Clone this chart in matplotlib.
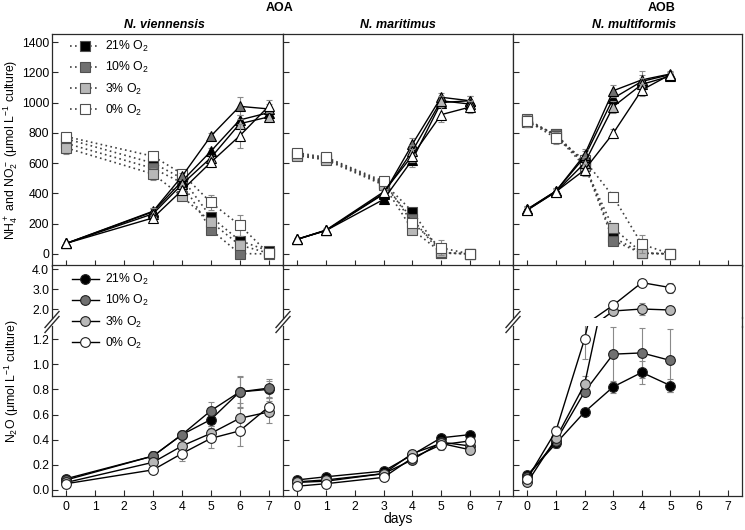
import numpy as np
import matplotlib
matplotlib.use('Agg')
import matplotlib.pyplot as plt
from matplotlib.lines import Line2D

plt.rcParams['font.family'] = ['Liberation Sans', 'DejaVu Sans']
plt.rcParams['mathtext.fontset'] = 'custom'
plt.rcParams['mathtext.rm'] = 'Liberation Sans'
plt.rcParams['mathtext.it'] = 'Liberation Sans:italic'
plt.rcParams['mathtext.bf'] = 'Liberation Sans:bold'

# O2 levels (order: 21, 10, 3, 0 %)
levels = ['21% O$_2$', '10% O$_2$', '3% O$_2$', '0% O$_2$']
fills = ['black', '#707070', '#b8b8b8', 'white']
species = ['N. viennensis', 'N. maritimus', 'N. multiformis']

# N. viennensis
days_v = [0, 3, 4, 5, 6, 7]
nh4_v = [[760, 600, 500, 245, 88, 20],
         [730, 565, 470, 160, 2, 0],
         [700, 528, 380, 212, 58, 5],
         [775, 645, 530, 340, 190, 3]]
nh4_v_err = [[20, 20, 20, 30, 30, 15],
             [20, 30, 20, 30, 30, 10],
             [40, 40, 20, 30, 30, 10],
             [20, 20, 20, 50, 70, 30]]
no2_v = [[70, 278, 480, 678, 885, 933],
         [70, 282, 512, 778, 975, 958],
         [70, 265, 460, 635, 860, 905],
         [70, 238, 420, 605, 780, 975]]
no2_v_err = [[5, 20, 20, 20, 30, 30],
             [5, 20, 20, 20, 60, 30],
             [5, 40, 30, 20, 30, 30],
             [5, 20, 30, 30, 80, 40]]
n2o_v = [[0.09, 0.27, 0.44, 0.56, 0.78, 0.80],
         [0.08, 0.27, 0.44, 0.63, 0.78, 0.81],
         [0.06, 0.22, 0.35, 0.45, 0.57, 0.62],
         [0.05, 0.16, 0.29, 0.41, 0.47, 0.66]]
n2o_v_err = [[0.01, 0.03, 0.03, 0.05, 0.12, 0.07],
             [0.01, 0.04, 0.02, 0.07, 0.13, 0.07],
             [0.01, 0.03, 0.03, 0.06, 0.12, 0.09],
             [0.01, 0.02, 0.06, 0.08, 0.12, 0.07]]

# N. maritimus
days_m = [0, 1, 3, 4, 5, 6]
nh4_m = [[660, 632, 470, 280, 8, 0],
         [652, 625, 462, 230, 5, 0],
         [650, 620, 455, 160, 10, 0],
         [668, 638, 480, 205, 40, 0]]
nh4_m_err = [[20, 20, 20, 20, 15, 10],
             [20, 20, 20, 20, 15, 10],
             [20, 20, 20, 25, 15, 10],
             [20, 20, 20, 30, 50, 10]]
no2_m = [[97, 155, 360, 622, 1000, 1012],
         [97, 155, 395, 725, 1035, 1012],
         [97, 155, 400, 680, 1012, 990],
         [97, 158, 410, 650, 920, 970]]
no2_m_err = [[5, 10, 20, 50, 30, 30],
             [5, 10, 20, 40, 30, 30],
             [5, 10, 20, 40, 30, 30],
             [5, 10, 20, 40, 50, 40]]
n2o_m = [[0.08, 0.105, 0.15, 0.28, 0.415, 0.44],
         [0.06, 0.07, 0.13, 0.24, 0.38, 0.35],
         [0.065, 0.08, 0.13, 0.29, 0.37, 0.32],
         [0.03, 0.05, 0.10, 0.255, 0.36, 0.39]]
n2o_m_err = [[0.01, 0.01, 0.01, 0.02, 0.02, 0.02],
             [0.01, 0.01, 0.01, 0.02, 0.02, 0.02],
             [0.01, 0.01, 0.01, 0.03, 0.02, 0.03],
             [0.01, 0.01, 0.01, 0.02, 0.04, 0.02]]

# N. multiformis
days_n = [0, 1, 2, 3, 4, 5]
nh4_n = [[880, 790, 600, 110, 5, 0],
         [870, 790, 590, 88, 3, 0],
         [890, 780, 580, 171, 8, 0],
         [878, 766, 620, 379, 64, 0]]
nh4_n_err = [[30, 30, 30, 30, 10, 10],
             [30, 30, 30, 30, 10, 10],
             [30, 30, 30, 30, 10, 10],
             [40, 40, 40, 30, 60, 20]]
no2_n = [[295, 415, 640, 1028, 1140, 1185],
         [295, 415, 655, 1078, 1150, 1189],
         [290, 410, 600, 973, 1120, 1175],
         [290, 411, 555, 797, 1083, 1185]]
no2_n_err = [[20, 20, 40, 40, 40, 20],
             [20, 20, 40, 40, 60, 20],
             [20, 20, 40, 40, 40, 20],
             [20, 20, 40, 30, 40, 20]]
n2o_n = [[0.118, 0.37, 0.62, 0.82, 0.935, 0.83],
         [0.105, 0.39, 0.78, 1.08, 1.09, 1.03],
         [0.06, 0.41, 0.84, 1.90, 2.00, 1.95],
         [0.09, 0.47, 1.20, 2.19, 3.32, 3.07]]
n2o_n_err = [[0.01, 0.04, 0.02, 0.05, 0.09, 0.05],
             [0.01, 0.04, 0.03, 0.22, 0.2, 0.25],
             [0.01, 0.04, 0.07, 0.15, 0.3, 0.2],
             [0.01, 0.04, 0.16, 0.1, 0.12, 0.25]]

all_days = [days_v, days_m, days_n]
all_nh4 = [(nh4_v, nh4_v_err), (nh4_m, nh4_m_err), (nh4_n, nh4_n_err)]
all_no2 = [(no2_v, no2_v_err), (no2_m, no2_m_err), (no2_n, no2_n_err)]
all_n2o = [(n2o_v, n2o_v_err), (n2o_m, n2o_m_err), (n2o_n, n2o_n_err)]

W, H = 745, 530
fig = plt.figure(figsize=(7.45, 5.3), dpi=100)

def fx(px):
    return px / W

def fy(py):
    return 1 - py / H

col_x = [52, 283, 513]
col_w = [231, 230, 229]
spine_c = '#2a2a2a'
err_c = '#8a8a8a'
fs = 8.8
dot = (0, (1, 2))

def style(ax, labelleft, labelbottom):
    for s in ax.spines.values():
        s.set_color(spine_c)
        s.set_linewidth(0.9)
    ax.tick_params(direction='in', length=4, width=0.8, color=spine_c,
                   labelsize=fs, left=True, right=False, top=False,
                   labelleft=labelleft, labelbottom=labelbottom)
    ax.tick_params(axis='y', pad=2)
    ax.tick_params(axis='x', pad=3.5)
    ax.set_xlim(-0.5, 7.5)
    ax.set_xticks(range(8))

for c in range(3):
    x0, w = col_x[c], col_w[c]
    days = all_days[c]

    # top row: NH4+ (squares, dotted) and NO2- (triangles, solid)
    ax = fig.add_axes([fx(x0), fy(266), fx(w), (266 - 34) / H])
    style(ax, c == 0, False)
    ax.set_ylim(-80, 1453)
    ax.set_yticks(range(0, 1401, 200))
    nh4, nh4_err = all_nh4[c]
    no2, no2_err = all_no2[c]
    for k in range(4):
        ax.errorbar(days, nh4[k], yerr=nh4_err[k], fmt='none', ecolor=err_c,
                    elinewidth=0.8, capsize=2.5, capthick=0.8)
        ax.plot(days, nh4[k], ls=dot, color='#404040', lw=1.2, marker='s',
                ms=6.5, mfc=fills[k], mec='#505050', mew=0.8, label=levels[k])
    if c == 0:
        ax.legend(loc='upper left', bbox_to_anchor=((70 - 52) / 231, 1 - (39 - 34) / 232),
                  frameon=False, fontsize=fs, handlelength=2.4, handletextpad=0.5,
                  labelspacing=0.5, borderpad=0, borderaxespad=0)
    for k in range(4):
        ax.errorbar(days, no2[k], yerr=no2_err[k], fmt='none', ecolor=err_c,
                    elinewidth=0.8, capsize=2.5, capthick=0.8)
        ax.plot(days, no2[k], '-', color='black', lw=1, marker='^', ms=7.5,
                mfc=fills[k], mec='black', mew=0.8)

    # bottom row: N2O with broken y axis
    up = fig.add_axes([fx(x0), fy(318), fx(w), (318 - 265) / H])
    lo = fig.add_axes([fx(x0), fy(496), fx(w), (496 - 326) / H])
    style(up, c == 0, False)
    style(lo, c == 0, True)
    up.tick_params(axis='x', bottom=False)
    up.spines['bottom'].set_visible(False)
    lo.spines['top'].set_visible(False)
    if c < 2:
        up.spines['right'].set_visible(False)
        lo.spines['right'].set_visible(False)
    up.set_ylim(1.55, 4.2)
    up.set_yticks([2, 3, 4])
    up.set_yticklabels(['2.0', '3.0', '4.0'])
    lo.set_ylim(-0.048, 1.304)
    lo.set_yticks(np.arange(0, 1.21, 0.2))
    lo.set_yticklabels(['0.0', '0.2', '0.4', '0.6', '0.8', '1.0', '1.2'])
    n2o, n2o_err = all_n2o[c]
    for a in (up, lo):
        for k in range(4):
            a.errorbar(days, n2o[k], yerr=n2o_err[k], fmt='none', ecolor=err_c,
                       elinewidth=0.8, capsize=2.5, capthick=0.8)
        for k in range(4):
            a.plot(days, n2o[k], '-', color='black', lw=1, marker='o', ms=7,
                   mfc=fills[k], mec='#202020', mew=0.8)

    # break marks
    for off in (-2.5, 2.5):
        fig.add_artist(Line2D([fx(x0 - 7), fx(x0 + 7)],
                              [fy(322 + off + 8), fy(322 + off - 8)],
                              color=spine_c, lw=1))

# continuous right spine of the last column
fig.add_artist(Line2D([fx(742), fx(742)], [fy(317), fy(327)], color=spine_c, lw=0.9))

handles = [Line2D([], [], color='black', lw=1, marker='o', ms=7, mfc=fills[k],
                  mec='#202020', mew=0.8) for k in range(4)]
fig.legend(handles, levels, loc='upper left', bbox_to_anchor=(fx(72), fy(272)),
           frameon=False, fontsize=fs, handlelength=2.2, handletextpad=0.5,
           labelspacing=0.5, borderpad=0, borderaxespad=0)

fig.text(fx(280), fy(8), 'AOA', ha='center', va='center', fontsize=9, fontweight='bold')
fig.text(fx(662), fy(8), 'AOB', ha='center', va='center', fontsize=9, fontweight='bold')
for name, cx in zip(species, [164, 398, 634]):
    fig.text(fx(cx), fy(25), name, ha='center', va='center', fontsize=9,
             fontweight='bold', fontstyle='italic')

fig.text(fx(11), fy(150), r'NH$_4^+$ and NO$_2^-$ ($\mathregular{\mu}$mol L$^{-1}$ culture)',
         rotation=90, ha='center', va='center', fontsize=fs)
fig.text(fx(12), fy(381), r'N$_2$O ($\mathregular{\mu}$mol L$^{-1}$ culture)',
         rotation=90, ha='center', va='center', fontsize=fs)
fig.text(fx(398), fy(519), 'days', ha='center', va='center', fontsize=10)

fig.savefig('out.png', dpi=100)
